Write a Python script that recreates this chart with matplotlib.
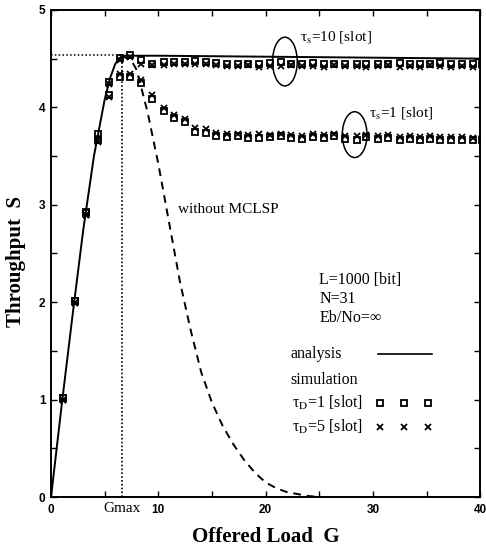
import matplotlib
matplotlib.use("Agg")
import matplotlib.pyplot as plt
from matplotlib.patches import Ellipse

plt.rcParams['font.family'] = ['Liberation Serif', 'DejaVu Serif']
plt.rcParams['mathtext.fontset'] = 'stix'

# ---------------- data ----------------
# analysis curve (solid)
G_analysis = [0, 1, 2, 3, 4, 5, 5.5, 6, 6.6, 7, 10, 20, 30, 40]
S_analysis = [0, 0.95, 1.86, 2.74, 3.50, 4.08, 4.30, 4.45, 4.53, 4.53, 4.53, 4.52, 4.51, 4.50]

# without MCLSP (dashed)
G_nomclsp = [6.6, 7.5, 8, 9, 10, 11, 12, 13, 14, 15, 16, 17, 18, 19, 20, 21, 22, 23, 24, 25]
S_nomclsp = [4.53, 4.48, 4.38, 3.95, 3.42, 2.82, 2.22, 1.72, 1.28, 0.97, 0.73, 0.54, 0.38, 0.25, 0.15, 0.09, 0.05, 0.03, 0.01, 0.0]

# Gmax
G_max = 6.6
S_max = 4.54

# simulation points
G_sim = [1.1, 2.2, 3.3, 4.4, 5.4, 6.4, 7.4, 8.4, 9.4, 10.5, 11.5, 12.5, 13.4, 14.4,
         15.4, 16.4, 17.4, 18.4, 19.4, 20.4, 21.4, 22.4, 23.4, 24.4, 25.4, 26.4, 27.4,
         28.5, 29.4, 30.5, 31.4, 32.5, 33.5, 34.4, 35.3, 36.3, 37.3, 38.3, 39.3, 40.2]

# tau_s = 10
S_ts10_tD1 = [1.02, 2.01, 2.93, 3.73, 4.26, 4.51, 4.54, 4.49, 4.45, 4.47, 4.47, 4.47, 4.48, 4.47,
              4.46, 4.45, 4.44, 4.45, 4.44, 4.46, 4.47, 4.44, 4.45, 4.46, 4.44, 4.45, 4.45,
              4.44, 4.45, 4.45, 4.44, 4.46, 4.44, 4.45, 4.44, 4.46, 4.44, 4.45, 4.44, 4.44]
S_ts10_tD5 = [1.00, 1.99, 2.90, 3.69, 4.24, 4.49, 4.52, 4.45, 4.43, 4.43, 4.44, 4.45, 4.45, 4.44,
              4.43, 4.42, 4.42, 4.43, 4.41, 4.42, 4.42, 4.43, 4.42, 4.42, 4.41, 4.43, 4.42,
              4.42, 4.41, 4.42, 4.43, 4.41, 4.42, 4.41, 4.43, 4.42, 4.41, 4.42, 4.41, 4.42]

# tau_s = 1
S_ts1_tD1 = [1.02, 2.01, 2.92, 3.66, 4.13, 4.31, 4.31, 4.25, 4.09, 3.96, 3.89, 3.85, 3.75, 3.74,
             3.71, 3.70, 3.71, 3.69, 3.69, 3.70, 3.71, 3.69, 3.68, 3.70, 3.69, 3.71, 3.68,
             3.67, 3.70, 3.68, 3.69, 3.67, 3.68, 3.67, 3.68, 3.67, 3.66, 3.67, 3.66, 3.66]
S_ts1_tD5 = [1.00, 1.99, 2.90, 3.64, 4.11, 4.34, 4.34, 4.28, 4.13, 3.99, 3.92, 3.88, 3.79, 3.78,
             3.74, 3.73, 3.73, 3.72, 3.73, 3.72, 3.73, 3.72, 3.71, 3.73, 3.72, 3.73, 3.71,
             3.71, 3.72, 3.71, 3.72, 3.70, 3.71, 3.70, 3.71, 3.70, 3.70, 3.70, 3.69, 3.69]

x_ticks = [0, 5, 10, 15, 20, 25, 30, 35, 40]
x_labels = ['0', '', '10', '', '20', '', '30', '', '40']
y_ticks = [0, 0.5, 1, 1.5, 2, 2.5, 3, 3.5, 4, 4.5, 5]
y_labels = ['0', '', '1', '', '2', '', '3', '', '4', '', '5']

# ---------------- figure ----------------
fig = plt.figure(figsize=(4.86, 5.52), dpi=100)
ax = fig.add_axes([0.105, 0.0996, 0.883, 0.8824])

ax.plot(G_analysis, S_analysis, color='black', lw=1.4, zorder=3)
ax.plot(G_nomclsp, S_nomclsp, color='black', lw=1.4, ls=(0, (4, 3)), zorder=3)
ax.plot([G_max, G_max], [0, S_max], color='black', lw=1.2, ls=(0, (1, 1.3)))
ax.plot([0, G_max], [S_max, S_max], color='black', lw=1.1, ls=(0, (1, 1.5)))

sq = dict(marker='s', ls='none', mfc='none', mec='black', ms=4.2, mew=1.3, zorder=4)
xm = dict(marker='x', ls='none', color='black', ms=4.2, mew=1.3, zorder=4)
ax.plot(G_sim, S_ts10_tD1, **sq)
ax.plot(G_sim, S_ts10_tD5, **xm)
ax.plot(G_sim, S_ts1_tD1, **sq)
ax.plot(G_sim, S_ts1_tD5, **xm)

ax.set_xlim(0, 40)
ax.set_ylim(0, 5)
ax.set_xticks(x_ticks)
ax.set_xticklabels(x_labels)
ax.set_yticks(y_ticks)
ax.set_yticklabels(y_labels)
ax.tick_params(direction='in', length=4, width=1, top=True, right=True)
ax.tick_params(axis='y', pad=4)
ax.tick_params(axis='x', pad=5)
for lab in ax.get_xticklabels() + ax.get_yticklabels():
    lab.set_family('Liberation Sans')
    lab.set_fontweight('bold')
    lab.set_fontsize(8.5)
for sp in ax.spines.values():
    sp.set_linewidth(1.4)

ax.text(G_max, -0.113, 'Gmax', ha='center', va='center', fontsize=11)

ax.set_xlabel('Offered Load  G', fontsize=15, fontweight='bold', labelpad=8)
ax.set_ylabel('Throughput  S', fontsize=15, fontweight='bold')
ax.yaxis.set_label_coords(-0.058, 0.483)

# annotations
ax.add_patch(Ellipse((21.8, 4.47), 2.3, 0.50, fill=False, lw=1.1, ec='black'))
ax.add_patch(Ellipse((28.3, 3.72), 2.3, 0.47, fill=False, lw=1.1, ec='black'))
ax.text(23.2, 4.72, r'τ$_\mathrm{s}$=10 [slot]', fontsize=11, va='center')
ax.text(29.6, 3.94, r'τ$_\mathrm{s}$=1 [slot]', fontsize=11, va='center')
ax.text(11.8, 2.95, 'without MCLSP', fontsize=11, va='center')
ax.text(25.0, 2.23, 'L=1000 [bit]', fontsize=11.5, va='center')
ax.text(25.0, 2.03, 'N=31', fontsize=11.5, va='center')
ax.text(25.0, 1.84, 'Eb/No=∞', fontsize=11.5, va='center')
ax.text(22.3, 1.47, 'analysis', fontsize=11.5, va='center')
ax.plot([30.5, 35.5], [1.47, 1.47], color='black', lw=1.2)
ax.text(22.3, 1.20, 'simulation', fontsize=11.5, va='center')
ax.text(22.5, 0.965, r'τ$_\mathrm{D}$=1 [slot]', fontsize=11.5, va='center')
ax.text(22.5, 0.72, r'τ$_\mathrm{D}$=5 [slot]', fontsize=11.5, va='center')
ax.plot([30.7, 32.9, 35.1], [0.965] * 3, **sq)
ax.plot([30.7, 32.9, 35.1], [0.72] * 3, **xm)

fig.savefig('out.png', dpi=100)
